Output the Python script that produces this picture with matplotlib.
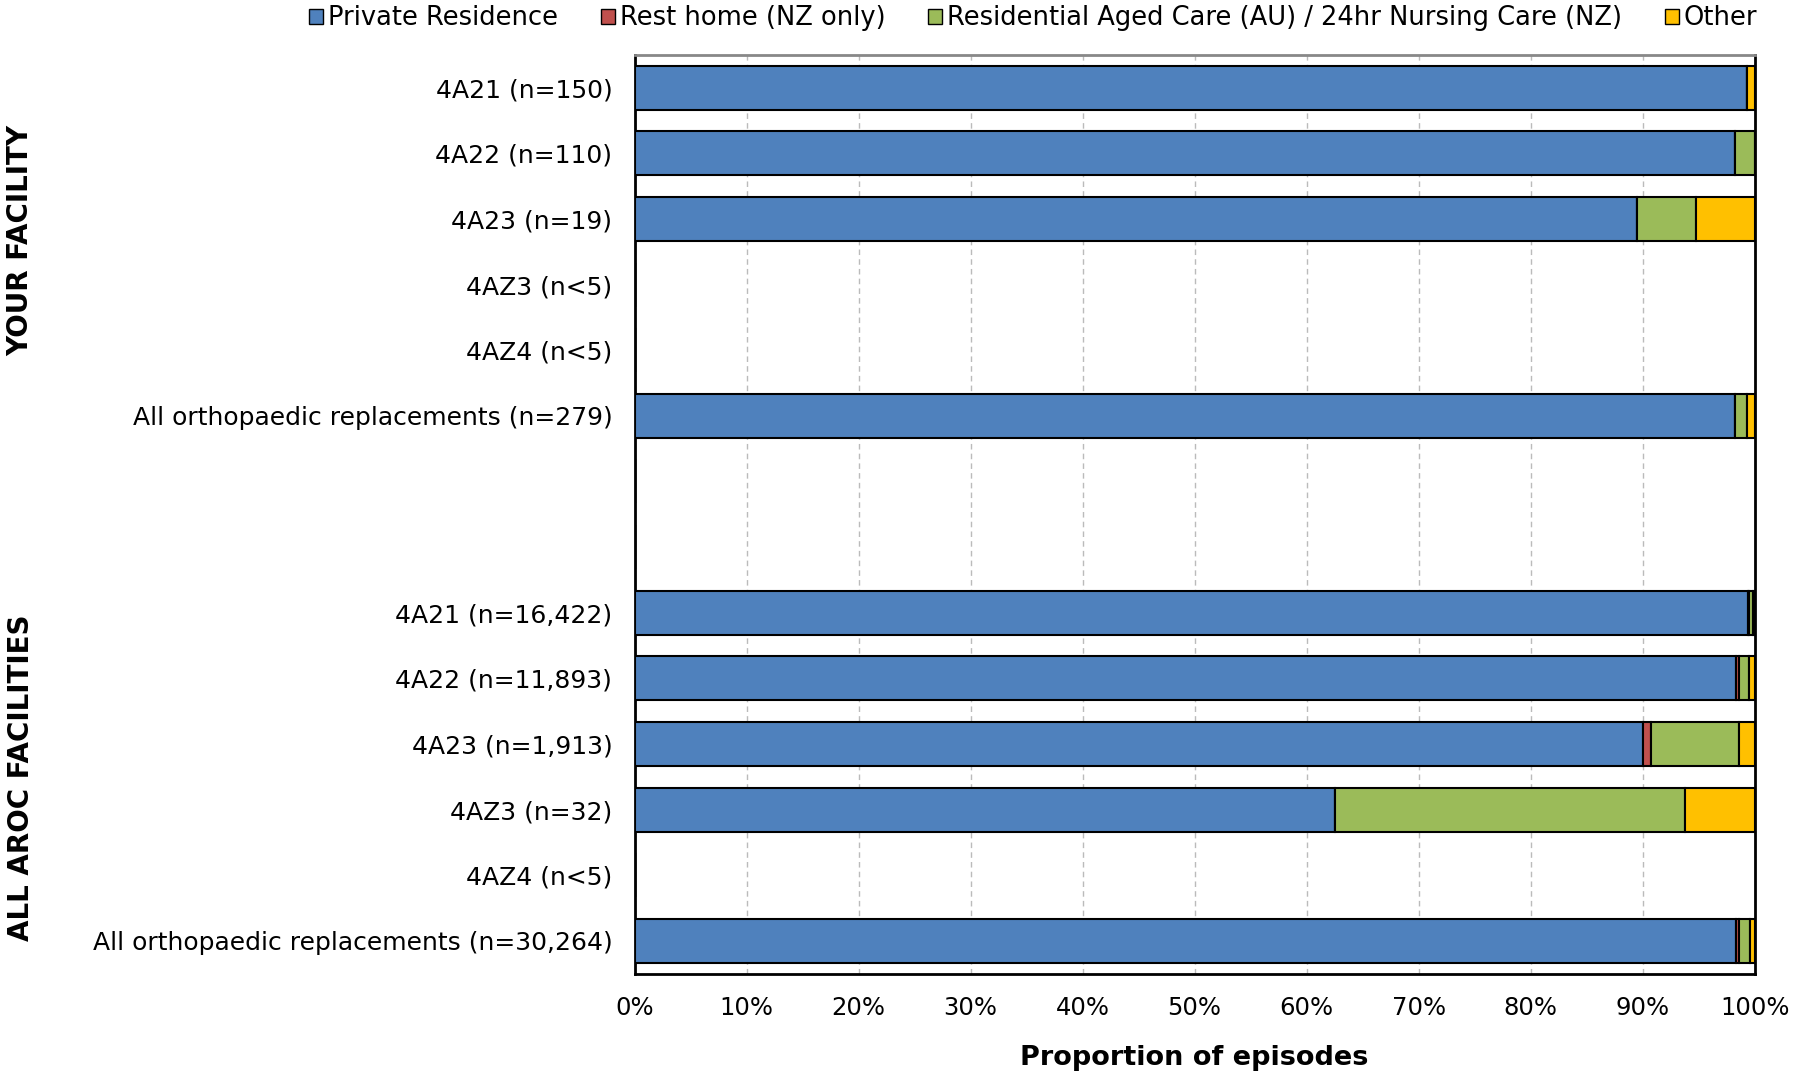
import numpy as np
import matplotlib.pyplot as plt

# category labels, top to bottom (blank entries are the spacer rows)
labels = [
    "4A21 (n=150)", "4A22 (n=110)", "4A23 (n=19)", "4AZ3 (n<5)", "4AZ4 (n<5)",
    "All orthopaedic replacements (n=279)", "", "",
    "4A21 (n=16,422)", "4A22 (n=11,893)", "4A23 (n=1,913)", "4AZ3 (n=32)",
    "4AZ4 (n<5)", "All orthopaedic replacements (n=30,264)",
]

series_names = ["Private Residence", "Rest home (NZ only)",
                "Residential Aged Care (AU) / 24hr Nursing Care (NZ)", "Other"]
colors = ["#4F81BD", "#C0504D", "#9BBB59", "#FFC000"]

# proportions in % per row
private = [99.3, 98.2, 89.5, 0, 0, 98.2, 0, 0, 99.4, 98.3, 90.0, 62.5, 0, 98.3]
rest_home = [0, 0, 0, 0, 0, 0, 0, 0, 0.05, 0.3, 0.7, 0, 0, 0.3]
rac = [0, 1.8, 5.3, 0, 0, 1.1, 0, 0, 0.4, 0.9, 7.9, 31.25, 0, 1.0]
other = [0.7, 0, 5.2, 0, 0, 0.7, 0, 0, 0.15, 0.5, 1.4, 6.25, 0, 0.4]

fig = plt.figure(figsize=(17.96, 10.74), dpi=100)
ax = fig.add_axes([0.3533, 0.0935, 0.6237, 0.8553])

y = np.arange(len(labels))
left = np.zeros(len(labels))
for vals, name, col in zip([private, rest_home, rac, other], series_names, colors):
    vals = np.array(vals)
    ax.barh(y, vals, left=left, height=0.67, color=col, edgecolor="black",
            linewidth=1.5, label=name, zorder=3)
    left += vals

ax.set_ylim(len(labels) - 0.5, -0.5)
ax.set_xlim(0, 100)
ax.set_yticks(y)
ax.set_yticklabels(labels, fontsize=18)
ax.set_xticks(np.arange(0, 101, 10))
ax.set_xticklabels([f"{v}%" for v in range(0, 101, 10)], fontsize=17.5)
ax.tick_params(axis="y", length=0, pad=16)
ax.tick_params(axis="x", length=0, pad=16)
ax.xaxis.grid(True, linestyle=(0, (4, 3)), color="#BBBBBB", linewidth=1, zorder=0)

for s in ["left", "right", "bottom"]:
    ax.spines[s].set_color("black")
    ax.spines[s].set_linewidth(2)
ax.spines["top"].set_color("#888888")
ax.spines["top"].set_linewidth(2)

ax.set_xlabel("Proportion of episodes", fontsize=19.5, fontweight="bold", labelpad=18)

fig.text(0.0115, 0.776, "YOUR FACILITY", rotation=90, fontsize=20, fontweight="bold",
         ha="center", va="center")
fig.text(0.0115, 0.276, "ALL AROC FACILITIES", rotation=90, fontsize=20,
         fontweight="bold", ha="center", va="center")

leg = fig.legend(loc="upper right", bbox_to_anchor=(0.9915, 1.0165), ncol=4, frameon=False,
                 fontsize=18.5, handlelength=0.55, handleheight=0.55, handletextpad=0.2,
                 columnspacing=1.65)
for h in leg.legend_handles:
    h.set_linewidth(1)

fig.savefig("out.png", dpi=100)
